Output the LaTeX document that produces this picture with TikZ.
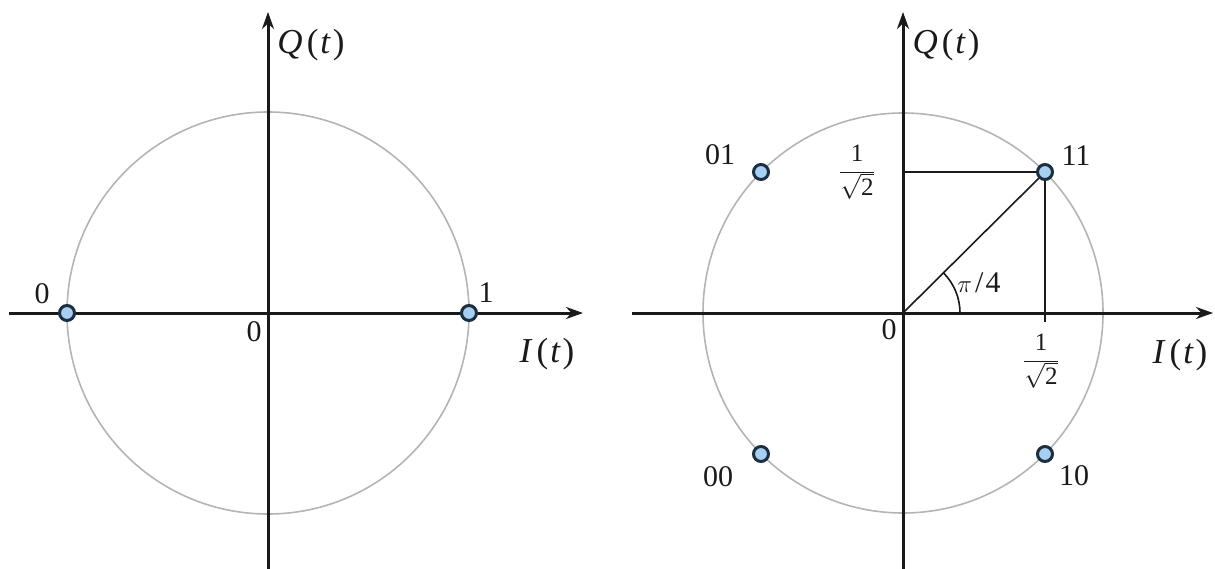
\documentclass[tikz,border=0pt]{standalone}
\usepackage{fontspec}
\setmainfont{Liberation Serif}
\usetikzlibrary{arrows.meta}
\definecolor{axiscol}{HTML}{1A1A1A}
\definecolor{ringcol}{HTML}{B4B4B4}
\definecolor{ptfill}{HTML}{A6CFF2}
\definecolor{ptline}{HTML}{1C2E40}
\tikzset{
  axis/.style={line width=3pt, draw=axiscol, -{Stealth[length=17pt,width=12pt]}},
  ring/.style={line width=1.6pt, draw=ringcol},
  guide/.style={line width=1.6pt, draw=axiscol},
  pt/.style={circle, minimum size=15pt, inner sep=0pt, line width=3pt, draw=ptline, fill=ptfill},
  lab/.style={font=\fontsize{30}{34}\selectfont, text=axiscol, inner sep=0pt},
  axlab/.style={font=\fontsize{35}{40}\selectfont, text=axiscol, inner sep=0pt},
  frac/.style={font=\fontsize{25}{30}\selectfont, text=axiscol, inner sep=0pt}
}
\newcommand{\sig}[1]{\textit{#1}\kern4pt(\kern2pt\textit{t}\kern2pt)}
\newcommand{\invsqrt}{$\displaystyle\frac{\mbox{1}}{\sqrt{\mbox{2}}}$}
\begin{document}
\begin{tikzpicture}[x=1pt,y=-1pt]
\useasboundingbox (0,0) rectangle (1215,569);
% ---------- left: BPSK ----------
\coordinate (LO) at (268,313);
\coordinate (LW) at (9,313);
\coordinate (LE) at (583,313);
\coordinate (LS) at (268,569);
\coordinate (LN) at (268,12);
\draw[ring] (LO) circle[radius=201];
\draw[axis] (LW) -- (LE);
\draw[axis] (LS) -- (LN);
\node[pt] (p0) at (67,313) {};
\node[pt] (p1) at (469,313) {};
\node[lab] (l0) at (42,294) {0};
\node[lab] (l1) at (486,293) {1};
\node[lab] (lo) at (254,332) {0};
\node[axlab] (lq) at (311,45) {\sig{Q}};
\node[axlab] (li) at (547,354) {\sig{I}};
% ---------- right: QPSK ----------
\coordinate (RO) at (903,313);
\coordinate (RW) at (632,313);
\coordinate (RE) at (1213,313);
\coordinate (RS) at (903,569);
\coordinate (RN) at (903,12);
\coordinate (RY) at (903,172);
\coordinate (RX) at (1045,322);
\draw[ring] (RO) circle[radius=200];
\draw[axis] (RW) -- (RE);
\draw[axis] (RS) -- (RN);
\node[pt] (q11) at (1045,172) {};
\node[pt] (q01) at (761,172) {};
\node[pt] (q00) at (761,454) {};
\node[pt] (q10) at (1045,454) {};
\draw[guide] (RY) -- (q11.west);
\draw[guide] (q11.south) -- (RX);
\draw[guide] (RO) -- (q11.south west);
\draw[guide] (RO) ++(57,0) arc[start angle=0, end angle=-45, radius=57];
\node[lab] (t11) at (1076,156) {11};
\node[lab] (t01) at (720,155) {01};
\node[lab] (t00) at (718,477) {00};
\node[lab] (t10) at (1074,476) {10};
\node[lab] (ro) at (889,330) {0};
\node[lab] (ang) at (979,283) {$\pi$\kern3pt/\kern2pt4};
\node[frac] (fy) at (857,172) {\invsqrt};
\node[frac] (fx) at (1041,361) {\invsqrt};
\node[axlab] (rq) at (946,45) {\sig{Q}};
\node[axlab] (ri) at (1180,355) {\sig{I}};
\end{tikzpicture}
\end{document}
